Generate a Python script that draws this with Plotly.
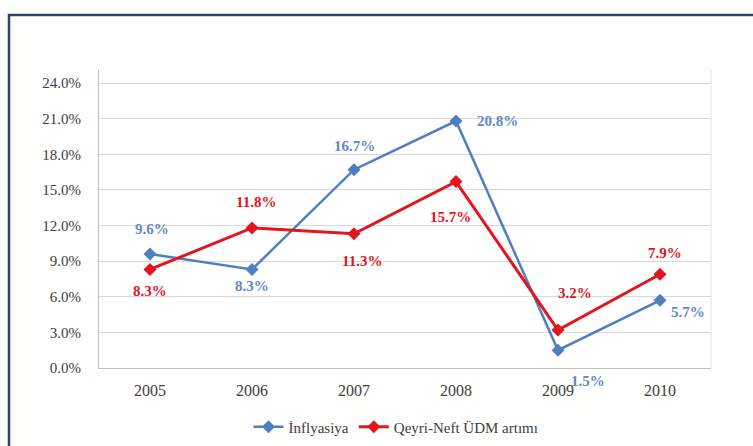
import plotly.graph_objects as go

# Annual figures, percent
years = ["2005", "2006", "2007", "2008", "2009", "2010"]
inflation = [9.6, 8.3, 16.7, 20.8, 1.5, 5.7]
non_oil_gdp = [8.3, 11.8, 11.3, 15.7, 3.2, 7.9]
series_names = ["İnflyasiya", "Qeyri-Neft ÜDM artımı"]
y_ticks = [0, 3, 6, 9, 12, 15, 18, 21, 24]

BLUE = "#4F7FC0"
BLUE_TXT = "#6089C4"
RED = "#E3151E"
SERIF = "Liberation Serif"

# pixel offsets of each value label from its marker (dx, dy; dy up)
blue_offsets = [(2, 25), (0, -17), (0, 24), (41, 0), (30, -31), (28, -12)]
red_offsets = [(0, -22), (4, 26), (8, -27), (-6, -35), (17, 37), (5, 21)]

fig = go.Figure()
fig.add_trace(go.Scatter(
    x=years, y=inflation, name=series_names[0], mode="lines+markers",
    line=dict(color=BLUE, width=2.5),
    marker=dict(symbol="diamond", size=10, color=BLUE),
))
fig.add_trace(go.Scatter(
    x=years, y=non_oil_gdp, name=series_names[1], mode="lines+markers",
    line=dict(color=RED, width=3),
    marker=dict(symbol="diamond", size=10, color=RED),
))

annotations = []
for vals, offs, col in ((inflation, blue_offsets, BLUE_TXT), (non_oil_gdp, red_offsets, RED)):
    # category axes take the serial number of the category for annotation x
    for i, (v, (dx, dy)) in enumerate(zip(vals, offs)):
        annotations.append(dict(
            x=i, y=v, xref="x", yref="y", text=f"<b>{v:.1f}%</b>", showarrow=False,
            xshift=dx, yshift=dy,
            font=dict(family=SERIF, size=15, color=col),
        ))

# plot area: x 99..711 px, y 70..368 px
L, R, T, B = 99, 711, 70, 368
W, H = 753, 446


def px_x(p):
    return (p - L) / (R - L)


def px_y(p):
    return (B - p) / (B - T)


shapes = [
    # outer frame of the figure
    dict(type="rect", xref="paper", yref="paper",
         x0=px_x(9), x1=px_x(762), y0=px_y(15), y1=px_y(452),
         line=dict(color="#2B4467", width=2.5), fillcolor="rgba(0,0,0,0)", layer="below"),
    # light frame around the plotting area
    dict(type="line", xref="paper", yref="paper", x0=1, x1=1, y0=0, y1=1,
         line=dict(color="#E4E4E4", width=1)),
]

fig.update_layout(
    width=W, height=H,
    margin=dict(l=L, r=W - R, t=T, b=H - B, autoexpand=False),
    paper_bgcolor="#FEFEFD", plot_bgcolor="#FFFFFF",
    showlegend=True,
    legend=dict(orientation="h", x=px_x(396), y=px_y(427), xanchor="center", yanchor="middle",
                font=dict(family=SERIF, size=15, color="#404040"),
                itemwidth=30, tracegroupgap=0, bgcolor="rgba(0,0,0,0)"),
    annotations=annotations,
    shapes=shapes,
    xaxis=dict(type="category", showgrid=False, showline=True, linecolor="#BFBFBF", linewidth=1,
               ticks="outside", ticklen=8, tickcolor="rgba(0,0,0,0)",
               tickfont=dict(family=SERIF, size=16, color="#404040"), range=[-0.5, 5.5]),
    yaxis=dict(range=[0, 25.1], tickvals=y_ticks, ticktext=[f"{t:.1f}%" for t in y_ticks],
               showgrid=True, gridcolor="#D9D9D9", gridwidth=1.3,
               showline=True, linecolor="#BFBFBF", linewidth=1, zeroline=False,
               ticks="outside", ticklen=14, tickcolor="rgba(0,0,0,0)",
               tickfont=dict(family=SERIF, size=15, color="#404040")),
)

fig.write_html("out.html")
